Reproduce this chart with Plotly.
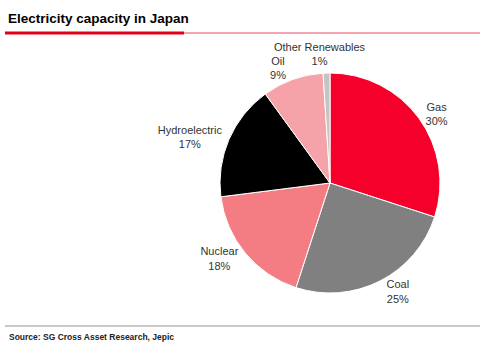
import plotly.graph_objects as go

labels = ["Gas", "Coal", "Nuclear", "Hydroelectric", "Oil", "Other Renewables"]
values = [30, 25, 18, 17, 9, 1]
colors = ["#F5002A", "#808080", "#F47D84", "#000000", "#F5A3A8", "#C4C4C4"]
label_pos = ["outside", "outside", "outside", "outside", "outside", "none"]

W, H = 480, 352
FONT = "Liberation Sans, Arial, sans-serif"

fig = go.Figure()
fig.add_trace(go.Pie(
    labels=labels,
    values=values,
    sort=False,
    direction="clockwise",
    rotation=0,
    marker=dict(colors=colors, line=dict(color="white", width=1)),
    textposition=label_pos,
    texttemplate="%{label}<br>%{value}%",
    textfont=dict(family=FONT, size=11, color="#333333"),
    outsidetextfont=dict(family=FONT, size=11, color="#333333"),
    domain=dict(x=[220 / W, 440 / W], y=[1 - 293 / H, 1 - 73 / H]),
    automargin=False,
    showlegend=False,
    hoverinfo="label+percent",
))

fig.update_layout(
    width=W, height=H,
    margin=dict(l=0, r=0, t=0, b=0),
    paper_bgcolor="white",
    plot_bgcolor="white",
    font=dict(family=FONT),
    annotations=[
        dict(text="<b>Electricity capacity in Japan</b>", x=6 / W, y=1 - 18 / H,
             xref="paper", yref="paper", xanchor="left", yanchor="middle",
             showarrow=False, font=dict(size=13.5, color="#000000")),
        dict(text="<b>Source: SG Cross Asset Research, Jepic</b>", x=7 / W, y=1 - 337 / H,
             xref="paper", yref="paper", xanchor="left", yanchor="middle",
             showarrow=False, font=dict(size=8.5, color="#222222")),
        dict(text=f"{labels[5]}<br>{values[5]}%", x=320 / W, y=1 - 54 / H,
             xref="paper", yref="paper", xanchor="center", yanchor="middle",
             showarrow=False, font=dict(family=FONT, size=11, color="#333333")),
    ],
    shapes=[
        dict(type="line", xref="paper", yref="paper", x0=5 / W, x1=1, y0=1 - 33 / H, y1=1 - 33 / H,
             line=dict(color="#E8485C", width=1)),
        dict(type="line", xref="paper", yref="paper", x0=5 / W, x1=184 / W, y0=1 - 33 / H, y1=1 - 33 / H,
             line=dict(color="#E0001B", width=3)),
        dict(type="line", xref="paper", yref="paper", x0=5 / W, x1=1, y0=1 - 326 / H, y1=1 - 326 / H,
             line=dict(color="#C8C8C8", width=2)),
    ],
)

fig.write_html("out.html")
